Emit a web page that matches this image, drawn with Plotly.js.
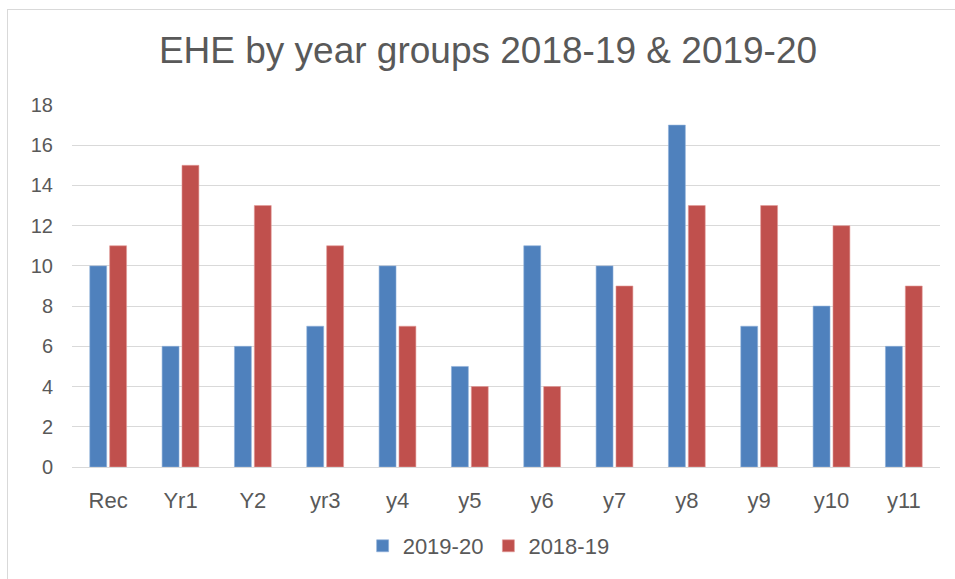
<!DOCTYPE html>
<html>
<head>
<meta charset="utf-8">
<script src="https://cdn.plot.ly/plotly-3.0.1.min.js"></script>
<style>
html,body{margin:0;padding:0;background:#fff;}
#chart{position:absolute;left:0;top:0;width:955px;height:579px;}
#frame{position:absolute;left:7px;top:9px;width:960px;height:600px;border-left:1px solid #d9d9d9;border-top:1px solid #d9d9d9;pointer-events:none;}
</style>
</head>
<body>
<div id="chart"></div>
<div id="frame"></div>
<script>
const categories = ["Rec","Yr1","Y2","yr3","y4","y5","y6","y7","y8","y9","y10","y11"];
const series2019_20 = [10,6,6,7,10,5,11,10,17,7,8,6];
const series2018_19 = [11,15,13,11,7,4,4,9,13,13,12,9];
const seriesNames = ["2019-20","2018-19"];
const yTicks = [0,2,4,6,8,10,12,14,16,18];

const font = "Liberation Sans, Arial, sans-serif";
const traces = [
  {type:"bar", name:seriesNames[0], x:categories, y:series2019_20,
   marker:{color:"#4F81BD", line:{color:"#8FB0DA", width:0.6}}},
  {type:"bar", name:seriesNames[1], x:categories, y:series2018_19,
   marker:{color:"#C0504D", line:{color:"#E39A98", width:0.6}}}
];
const layout = {
  width:955, height:579,
  margin:{l:72, r:15, t:105, b:112},
  paper_bgcolor:"#fff", plot_bgcolor:"#fff",
  font:{family:font, color:"#595959"},
  title:{text:"EHE by year groups 2018-19 & 2019-20", font:{size:37, color:"#595959", family:font},
         x:488/955, xref:"container", xanchor:"center", y:1-50/579, yref:"container", yanchor:"middle"},
  barmode:"group", bargap:0.45, bargroupgap:0.15,
  xaxis:{type:"category", tickfont:{size:22, color:"#595959"}, showgrid:false,
         showline:true, linecolor:"#D9D9D9", linewidth:1, ticks:"", ticklabelstandoff:14, fixedrange:true},
  yaxis:{range:[0,18], tickvals:yTicks, tickfont:{size:20, color:"#595959"},
         showgrid:true, gridcolor:"#D9D9D9", gridwidth:1, zeroline:false, showline:false,
         ticks:"", ticklabelstandoff:18, fixedrange:true},
  showlegend:true,
  legend:{orientation:"h", x:0.48, xanchor:"center", y:(467-546)/362, yanchor:"middle",
          font:{size:22, color:"#595959"}, itemwidth:30, traceorder:"normal"}
};
Plotly.newPlot("chart", traces, layout, {displayModeBar:false, staticPlot:true});
</script>
</body>
</html>
